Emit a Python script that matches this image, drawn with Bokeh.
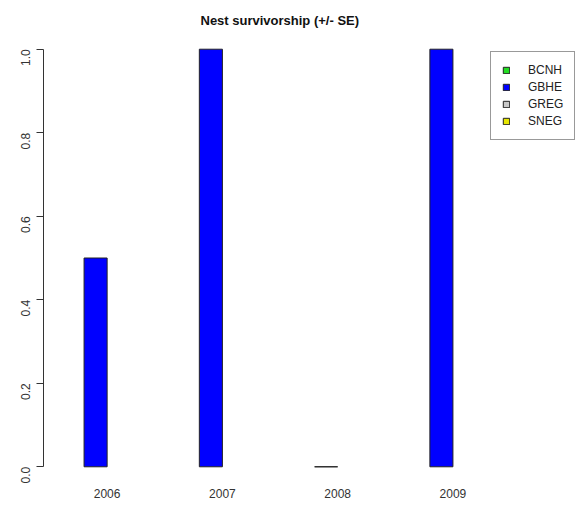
import math
from bokeh.plotting import figure
from bokeh.models import (ColumnDataSource, Legend, LegendItem, FixedTicker,
                          PrintfTickFormatter, Range1d)
from bokeh.embed import file_html
from bokeh.resources import INLINE

nan = float("nan")
years = ["2006", "2007", "2008", "2009"]
species = ["BCNH", "GBHE", "GREG", "SNEG"]
bcnh = [nan, nan, nan, nan]
gbhe = [0.5, 1.0, 0.0, 1.0]
greg = [nan, nan, nan, nan]
sneg = [nan, nan, nan, nan]
colors = ["#22dd22", "#0000ff", "#c8c8c8", "#e6e600"]
series = [bcnh, gbhe, greg, sneg]

FONT = "Liberation Sans"

p = figure(width=576, height=510, output_backend="svg", toolbar_location=None,
           x_range=Range1d(0.24, 23.36), y_range=Range1d(-0.04, 1.04),
           min_border_left=43, min_border_right=0, min_border_top=32,
           min_border_bottom=27)
p.outline_line_color = None
p.xgrid.visible = False
p.ygrid.visible = False

p.title.text = "Nest survivorship (+/- SE)"
p.title.align = "left"
p.title.offset = 157
p.title.text_font = FONT
p.title.text_font_size = "13px"
p.title.text_font_style = "bold"
p.title.text_color = "#111111"

items = []
for j, (name, vals, col) in enumerate(zip(species, series, colors)):
    xs = [1 + g * 5 + j + 0.5 for g in range(len(years))]
    src = ColumnDataSource(dict(x=xs, top=vals))
    r = p.vbar(x="x", top="top", bottom=0, width=1.0, source=src,
               fill_color=col, line_color="#222222", line_width=1)
    items.append(LegendItem(label=name, renderers=[r]))

legend = Legend(items=items, location=(447, 343))
legend.label_text_font = FONT
legend.label_text_font_size = "12px"
legend.label_text_color = "#222222"
legend.glyph_width = 8
legend.glyph_height = 8
legend.label_height = 12
legend.label_standoff = 18
legend.spacing = 3
legend.padding = 11
legend.margin = 0
legend.border_line_color = "#333333"
legend.border_line_width = 1
legend.background_fill_color = "white"
legend.background_fill_alpha = 1.0
p.add_layout(legend, "center")

# y axis
ya = p.yaxis[0]
ya.ticker = FixedTicker(ticks=[0, 0.2, 0.4, 0.6, 0.8, 1.0])
ya.formatter = PrintfTickFormatter(format="%.1f")
ya.bounds = (0, 1)
ya.major_label_orientation = math.pi / 2
ya.major_label_text_font = FONT
ya.major_label_text_font_size = "12px"
ya.major_label_text_color = "#333333"
ya.major_tick_in = 0
ya.major_tick_out = 7
ya.minor_tick_line_color = None
ya.major_label_standoff = 11
ya.axis_line_color = "#333333"
ya.major_tick_line_color = "#333333"

# x axis (group labels only)
xa = p.xaxis[0]
centers = [3 + 5 * g for g in range(len(years))]
xa.ticker = FixedTicker(ticks=centers)
xa.major_label_overrides = {c: y for c, y in zip(centers, years)}
xa.axis_line_color = None
xa.major_tick_line_color = None
xa.minor_tick_line_color = None
xa.major_tick_in = 0
xa.major_tick_out = 0
xa.major_label_standoff = 5
xa.major_label_text_font = FONT
xa.major_label_text_font_size = "12px"
xa.major_label_text_color = "#333333"

open("out.html", "w").write(file_html(p, INLINE))
